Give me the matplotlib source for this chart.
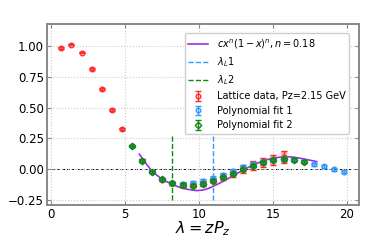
import matplotlib

matplotlib.use("Agg")

import matplotlib.pyplot as plt

# lambda = z * Pz for z = 1..29
lam = [0.68, 1.37, 2.05, 2.73, 3.42, 4.10, 4.78, 5.47, 6.15, 6.83,
       7.52, 8.20, 8.88, 9.57, 10.25, 10.93, 11.62, 12.30, 12.98, 13.67,
       14.35, 15.03, 15.72, 16.40, 17.08, 17.77, 18.45, 19.13, 19.82]

# lattice data (z = 1..23)
lat_y = [0.984, 1.013, 0.948, 0.815, 0.653, 0.482, 0.325, 0.187, 0.070, -0.020,
         -0.085, -0.115, -0.130, -0.130, -0.115, -0.090, -0.062, -0.035, 0.000, 0.032,
         0.054, 0.076, 0.100]
lat_err = [0.006, 0.007, 0.007, 0.008, 0.008, 0.009, 0.009, 0.010, 0.011, 0.012,
           0.013, 0.014, 0.015, 0.017, 0.018, 0.020, 0.022, 0.026, 0.035, 0.037,
           0.040, 0.038, 0.046]

# polynomial fit 1 (z = 8..29)
fit1_y = [0.187, 0.070, -0.020, -0.083, -0.113, -0.120, -0.112, -0.100, -0.078, -0.048,
          -0.018, 0.015, 0.040, 0.060, 0.077, 0.082, 0.077, 0.062, 0.040, 0.022,
          0.000, -0.020]
fit1_err = [0.010, 0.011, 0.012, 0.013, 0.014, 0.016, 0.018, 0.019, 0.020, 0.020,
            0.020, 0.020, 0.019, 0.018, 0.017, 0.016, 0.015, 0.014, 0.013, 0.013,
            0.013, 0.014]

# polynomial fit 2 (z = 8..25)
fit2_y = [0.187, 0.070, -0.019, -0.081, -0.114, -0.128, -0.133, -0.120, -0.095, -0.065,
          -0.038, 0.000, 0.030, 0.057, 0.076, 0.081, 0.076, 0.062]
fit2_err = [0.010, 0.011, 0.011, 0.012, 0.012, 0.013, 0.013, 0.013, 0.013, 0.013,
            0.013, 0.013, 0.013, 0.013, 0.013, 0.012, 0.012, 0.012]

# model curve c x^n (1-x)^n, n = 0.18
curve_x = [5.96, 6.4, 6.8, 7.15, 7.51, 7.85, 8.19, 8.52, 8.86, 9.2, 9.54, 9.84,
           10.24, 10.6, 10.92, 11.25, 11.61, 11.95, 12.31, 12.65, 12.99, 13.33,
           13.66, 14.0, 14.34, 14.68, 15.01, 15.35, 15.69, 16.02, 16.36, 16.7,
           17.04, 17.5, 17.95]
curve_y = [0.122, 0.048, -0.014, -0.050, -0.081, -0.104, -0.122, -0.140, -0.155, -0.163,
           -0.170, -0.174, -0.170, -0.158, -0.141, -0.122, -0.100, -0.077, -0.052, -0.029,
           -0.006, 0.015, 0.035, 0.052, 0.067, 0.080, 0.089, 0.096, 0.100, 0.101,
           0.098, 0.092, 0.084, 0.073, 0.062]

vline_x = [10.93, 8.20]
vline_span = [-0.25, 0.27]

RED = "#ff2a2a"
BLUE = "#3399ff"
GREEN = "#118811"
PURPLE = "#9b30e6"

fig = plt.figure(figsize=(3.9, 2.41), dpi=100)
ax = fig.add_axes([0.12, 0.15, 0.80, 0.75])

ax.axhline(0, color="black", linestyle=(0, (3, 2)), linewidth=0.7, zorder=1)
ax.plot(curve_x, curve_y, color=PURPLE, linewidth=1.2, zorder=2,
        label=r"$cx^n(1-x)^n, n=0.18$")
ax.vlines(vline_x[0], vline_span[0], vline_span[1], color=BLUE,
          linestyle="--", linewidth=1.0, label=r"$\lambda_L1$", zorder=2)
ax.vlines(vline_x[1], vline_span[0], vline_span[1], color=GREEN,
          linestyle="--", linewidth=1.0, label=r"$\lambda_L2$", zorder=2)


def draw_series(x, y, err, color, marker, label, z):
    # light band behind each error bar, then the bar itself
    ax.errorbar(x, y, yerr=err, fmt="none", ecolor=color, elinewidth=4.5,
                alpha=0.35, zorder=z)
    ax.errorbar(x, y, yerr=err, fmt=marker, color=color, mfc="none", mec=color,
                ms=3.3, mew=1.0, elinewidth=1.0, capsize=2.2, capthick=1.0,
                label=label, zorder=z + 0.5)


draw_series(lam[:23], lat_y, lat_err, RED, "o", "Lattice data, Pz=2.15 GeV", 3)
draw_series(lam[7:29], fit1_y, fit1_err, BLUE, "o", "Polynomial fit 1", 4)
draw_series(lam[7:25], fit2_y, fit2_err, GREEN, "D", "Polynomial fit 2", 5)

ax.set_xlim(-0.3, 20.8)
ax.set_ylim(-0.29, 1.18)
ax.set_xticks([0, 5, 10, 15, 20])
ax.set_yticks([-0.25, 0.0, 0.25, 0.5, 0.75, 1.0])
ax.set_xlabel(r"$\lambda = zP_z$", fontsize=11.5, labelpad=-1)
ax.tick_params(direction="in", top=True, right=True, labelsize=8.5,
               color="#888888", length=3, pad=2)
ax.grid(True, linestyle=":", color="#cccccc", linewidth=0.8)
for spine in ax.spines.values():
    spine.set_color("#888888")
    spine.set_linewidth(1.4)

ax.legend(loc="upper right", fontsize=7, framealpha=1.0, borderpad=0.4,
          labelspacing=0.45, handlelength=2.0, handletextpad=0.9,
          bbox_to_anchor=(0.985, 0.975))

fig.savefig("out.png", dpi=100)
